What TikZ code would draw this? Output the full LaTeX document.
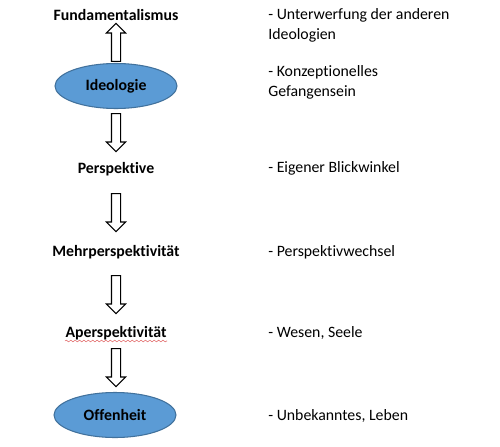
\documentclass[tikz,border=0pt]{standalone}
\usepackage{fontspec}
\setmainfont{Carlito}[Ligatures=NoCommon]
\usetikzlibrary{positioning, calc, shapes.geometric, shapes.arrows, decorations.pathmorphing}
\definecolor{ovalfill}{HTML}{5B9BD5}
\definecolor{ovaldraw}{HTML}{41719C}
\definecolor{squiggle}{HTML}{E06666}

\tikzset{
  stage/.style={font=\fontsize{9}{11.3}\selectfont\bfseries},
  oval/.style={ellipse, draw=ovaldraw, line width=0.6pt, fill=ovalfill, inner sep=0pt,
    minimum width=2.44cm, minimum height=0.9cm, font=\fontsize{9}{11.3}\selectfont\bfseries},
  notetext/.style={anchor=west, align=left, inner sep=0pt, font=\fontsize{9}{11.3}\selectfont},
  blockarrow/.style={single arrow, draw, line width=0.6pt, fill=white, inner sep=0.08cm,
    single arrow head extend=0.1cm, minimum height=0.76cm, anchor=tail}
}

\begin{document}
\begin{tikzpicture}[x=0.02cm, y=-0.02cm]
        \useasboundingbox (0,0) rectangle (500,446);
        % left column
        \node[stage] (fund) at (116,15) {Fundamentalismus};
        \node[oval] (ideo) at (116,86) {Ideologie};
        \node[stage] (persp) at (116,169) {Perspektive};
        \node[stage] (mehr) at (116,252) {Mehrperspektivität};
        \node[stage] (aper) at (116,333) {Aperspektivität};
        \node[oval] (offen) at (115,415) {Offenheit};
        \draw[squiggle, line width=0.3pt, decorate, decoration={snake, amplitude=0.5pt, segment length=2.5pt}]
          ($(aper)+(-51,8)$) -- ($(aper)+(51,8)$);
        % block arrows
        \node[blockarrow, shape border rotate=90] (up1) at ($(ideo.north)+(0,-1)$) {};
        \node[blockarrow, shape border rotate=270] (dn1) at ($(ideo.south)+(0,4)$) {};
        \node[blockarrow, shape border rotate=270] (dn2) at ($(persp)+(0,24)$) {};
        \node[blockarrow, shape border rotate=270] (dn3) at ($(mehr)+(0,23)$) {};
        \node[blockarrow, shape border rotate=270] (dn4) at ($(aper)+(0,15)$) {};
        % right column
        \node[notetext] (n1) at (268,25) {- Unterwerfung der anderen\\Ideologien};
        \node[notetext] (n2) at (268,82.5) {- Konzeptionelles\\Gefangensein};
        \node[notetext] (n3) at (268,168) {- Eigener Blickwinkel};
        \node[notetext] (n4) at (268,252) {- Perspektivwechsel};
        \node[notetext] (n5) at (268,333) {- Wesen, Seele};
        \node[notetext] (n6) at (268,416) {- Unbekanntes, Leben};
      \end{tikzpicture}
\end{document}
